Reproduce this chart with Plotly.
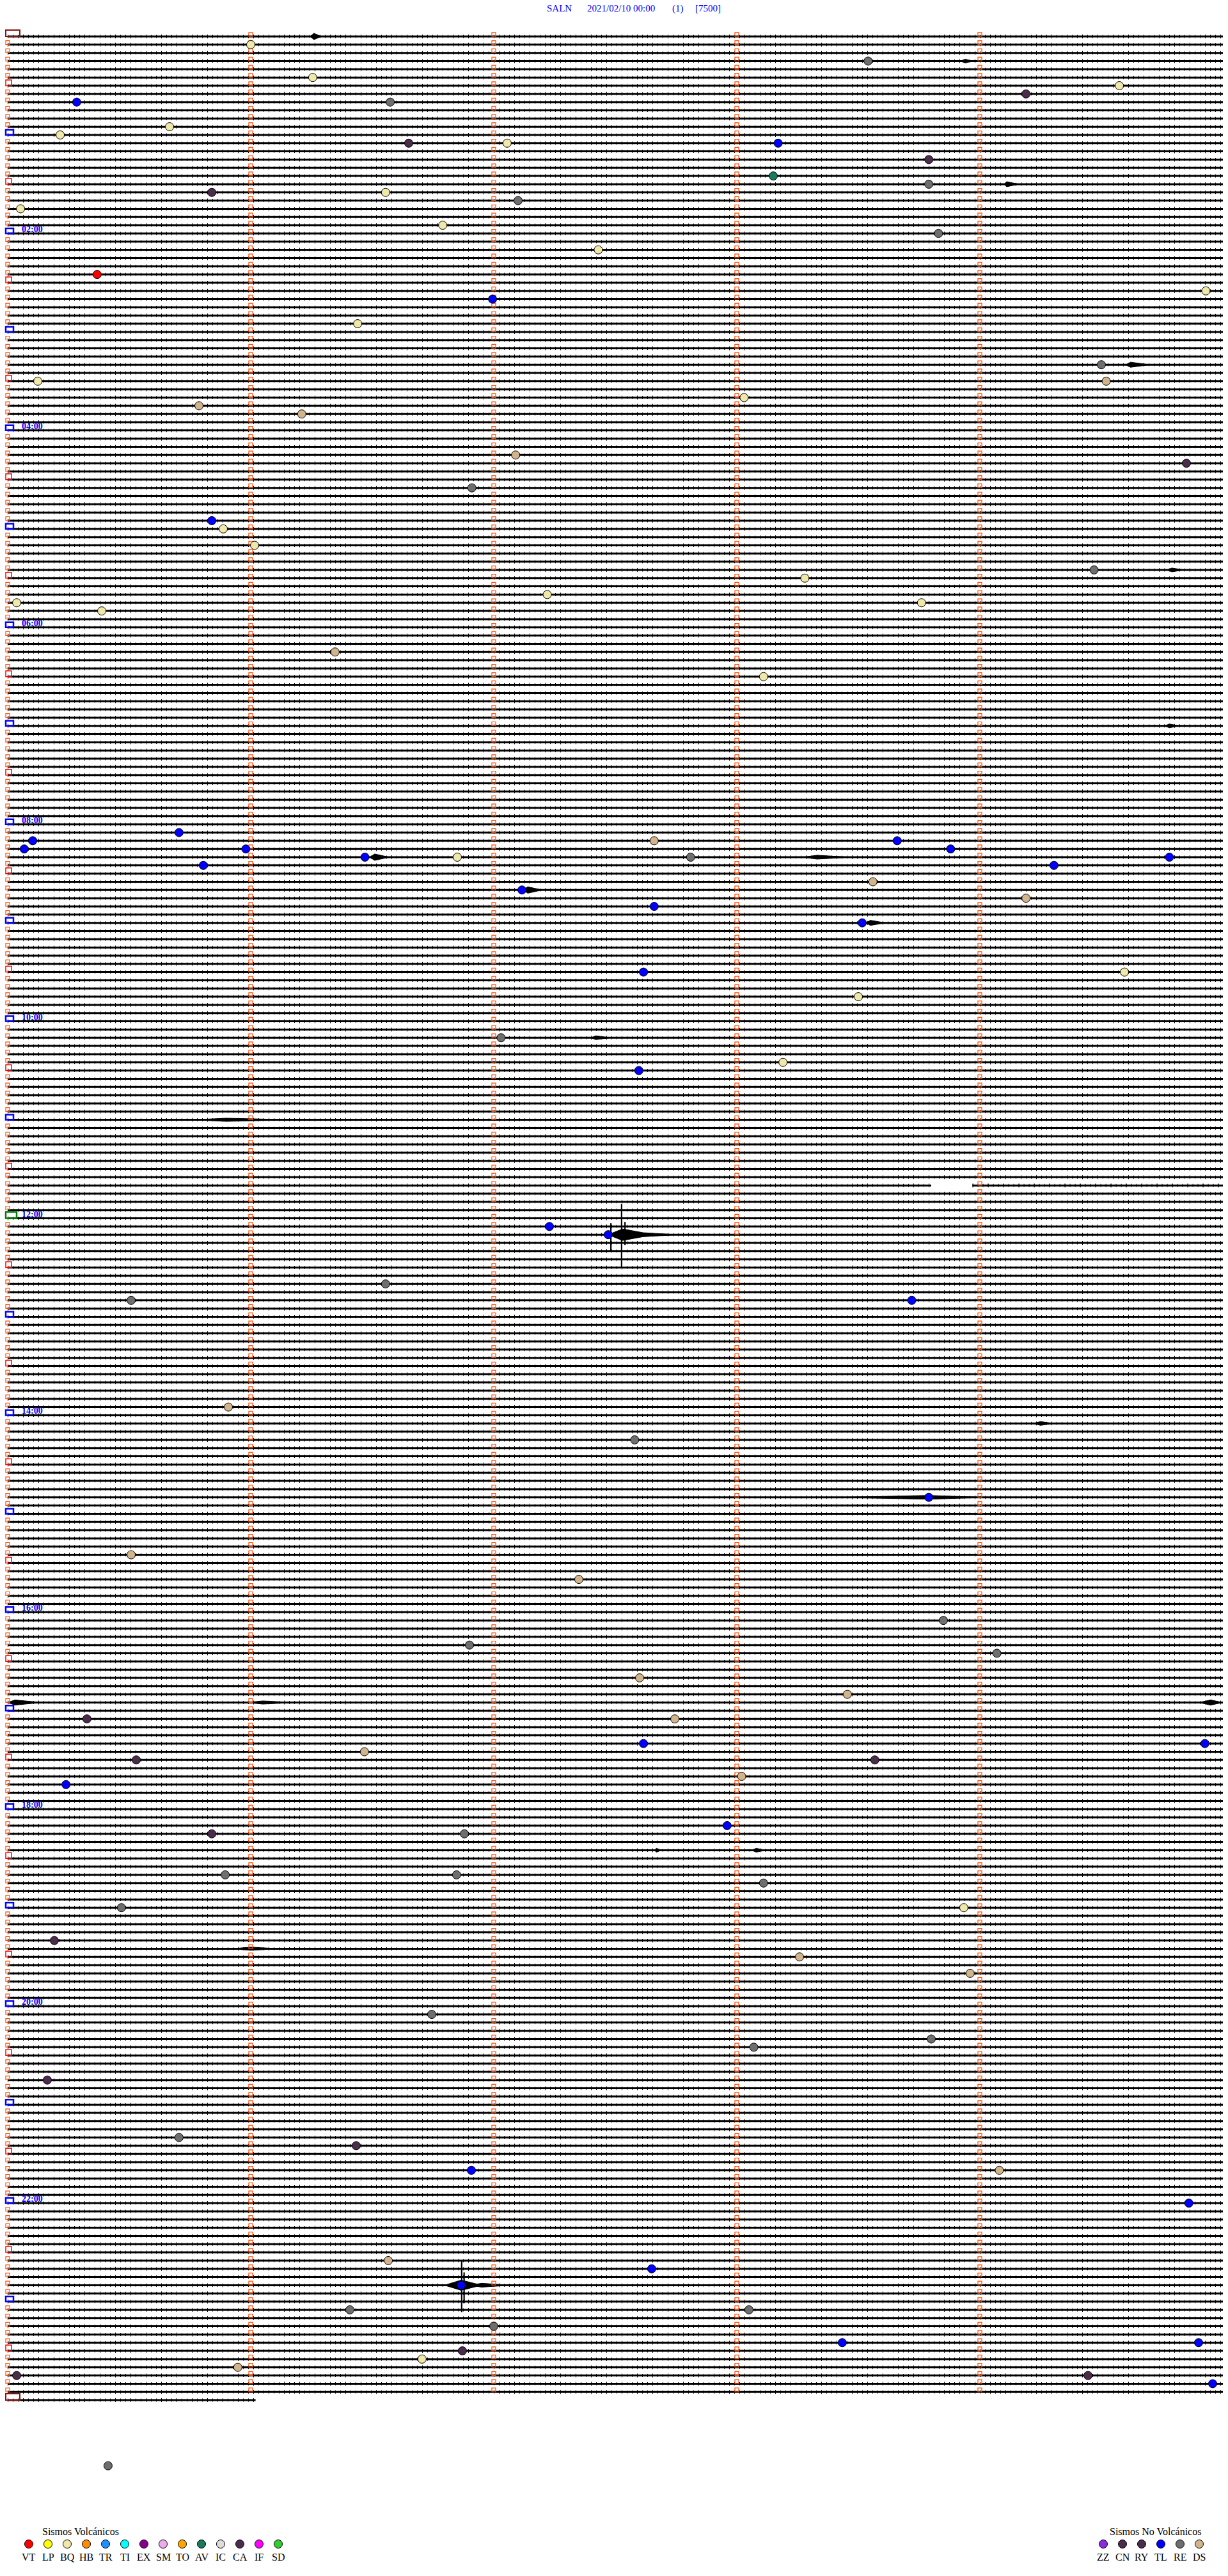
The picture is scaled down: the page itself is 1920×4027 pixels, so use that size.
import plotly.graph_objects as go

# ---------------- data ----------------
STATION = "SALN"
START_LABEL = "2021/02/10 00:00"
CHANNEL_LABEL = "(1)"
SCALE_LABEL = "[7500]"

N_ROWS = 289            # 5-minute lines, 24 h + start of next day
ROW_MINUTES = 5.0
LAST_ROW_END = 1.02     # minutes drawn on the last (partial) line
HOUR_LABELS = ["02:00", "04:00", "06:00", "08:00", "10:00", "12:00",
               "14:00", "16:00", "18:00", "20:00", "22:00"]
HOUR_LABEL_ROWS = [24, 48, 72, 96, 120, 144, 168, 192, 216, 240, 264]

# data gaps: row, start minute, end minute
GAP_ROW = [140]
GAP_START = [3.80]
GAP_END = [3.97]

# classified events: row, minute within the line, type
EV_ROW = [1, 3, 5, 6, 7, 8, 8, 11, 12, 13, 13, 13, 15, 17, 18, 19, 19, 20, 21, 23,
          24, 26, 29, 31, 32, 35, 40, 42, 42, 44, 45, 46, 51, 52, 55, 59, 60, 62, 65, 66,
          68, 69, 69, 70, 75, 78, 97, 98, 98, 98, 99, 99, 99, 100, 100, 100, 100, 101, 101, 103,
          104, 105, 106, 108, 114, 114, 117, 122, 125, 126, 145, 146, 152, 154, 154, 167, 171, 178, 185, 188,
          193, 196, 197, 200, 202, 205, 205, 208, 208, 209, 210, 210, 212, 213, 218, 219, 219, 224, 224, 225,
          228, 228, 232, 234, 236, 241, 244, 245, 249, 256, 257, 260, 260, 264, 271, 272, 274, 277, 277, 279,
          281, 281, 282, 283, 284, 285, 285, 286, 296]
EV_MIN = [1.00, 3.54, 1.255, 4.574, 4.19, 0.284, 1.574, 0.666, 0.216, 1.65, 2.055, 3.17, 3.79, 3.15, 3.79, 0.84, 1.555, 2.10, 0.053, 1.79,
          3.83, 2.43, 0.368, 4.93, 1.995, 1.44, 4.50, 0.124, 4.52, 3.03, 0.787, 1.21, 2.09, 4.85, 1.91, 0.84, 0.887, 1.016, 4.47, 3.28,
          2.22, 0.037, 3.76, 0.387, 1.347, 3.11, 0.705, 0.103, 2.66, 3.66, 0.068, 0.98, 3.88, 1.47, 1.85, 2.81, 4.78, 0.805, 4.305, 3.56,
          2.116, 4.19, 2.66, 3.516, 2.616, 4.595, 3.50, 2.03, 3.19, 2.597, 2.229, 2.471, 1.555, 0.508, 3.72, 0.908, 2.58, 3.79, 0.508, 2.35,
          3.85, 1.90, 4.07, 2.60, 3.455, 0.326, 2.745, 2.616, 4.926, 1.468, 0.529, 3.568, 3.02, 0.24, 2.96, 0.84, 1.879, 0.895, 1.847, 3.11,
          0.468, 3.934, 0.192, 3.258, 3.96, 1.745, 3.80, 3.07, 0.163, 0.705, 1.434, 1.908, 4.08, 4.86, 1.566, 2.65, 1.866, 1.408, 3.05, 2.00,
          3.434, 4.90, 1.871, 1.705, 0.947, 0.037, 4.445, 4.958, 0.413]
EV_TYPE = ["BQ", "RE", "BQ", "BQ", "CA", "TL", "RE", "BQ", "BQ", "CA", "BQ", "TL", "CA", "AV", "RE", "CA", "BQ", "RE", "BQ", "BQ",
           "RE", "BQ", "VT", "BQ", "TL", "BQ", "RE", "BQ", "DS", "BQ", "DS", "DS", "DS", "CA", "RE", "TL", "BQ", "BQ", "RE", "BQ",
           "BQ", "BQ", "BQ", "BQ", "DS", "BQ", "TL", "TL", "DS", "TL", "TL", "TL", "TL", "TL", "BQ", "RE", "TL", "TL", "TL", "DS",
           "TL", "DS", "TL", "TL", "TL", "BQ", "BQ", "RE", "BQ", "TL", "TL", "TL", "RE", "RE", "TL", "DS", "RE", "TL", "DS", "DS",
           "RE", "RE", "RE", "DS", "DS", "CA", "DS", "TL", "TL", "DS", "CA", "CA", "DS", "TL", "TL", "CA", "RE", "RE", "RE", "RE",
           "RE", "BQ", "CA", "DS", "DS", "RE", "RE", "RE", "CA", "RE", "CA", "TL", "DS", "TL", "DS", "TL", "TL", "RE", "RE", "RE",
           "TL", "TL", "CA", "BQ", "DS", "CA", "CA", "TL", "RE"]

# signal bursts: row, start, peak, end (minutes), half amplitude (px)
BURST_ROW = [0, 3, 18, 40, 65, 84, 100, 100, 104, 108, 122, 132, 146, 146, 169, 178, 203, 203, 203, 221, 221, 233, 274, 274]
BURST_START = [1.245, 3.92, 4.10, 4.60, 4.77, 4.76, 1.49, 3.27, 2.12, 3.53, 2.40, 0.76, 2.47, 2.60, 4.22, 3.42, 0.00, 0.98, 4.90, 2.66, 3.06, 0.92, 1.797, 1.90]
BURST_PEAK = [1.26, 3.94, 4.11, 4.62, 4.79, 4.78, 1.51, 3.33, 2.14, 3.55, 2.42, 0.90, 2.53, 2.62, 4.25, 3.79, 0.03, 1.05, 4.95, 2.67, 3.08, 1.00, 1.866, 1.95]
BURST_END = [1.29, 3.97, 4.16, 4.70, 4.84, 4.82, 1.57, 3.47, 2.20, 3.61, 2.48, 1.18, 2.66, 2.76, 4.30, 4.02, 0.14, 1.18, 5.00, 2.69, 3.12, 1.12, 1.95, 2.074]
BURST_AMP = [5, 3, 4, 4, 3, 3, 5, 3, 5, 4, 3, 2.5, 9, 3, 3, 3, 4, 2.5, 4, 3, 3, 2.5, 8, 3]

# single large spikes: row, minute, reach above / below the line (px)
SPIKE_ROW = [146, 146, 146, 274, 274]
SPIKE_MIN = [2.526, 2.482, 2.54, 1.868, 1.878]
SPIKE_UP = [48, 18, 20, 38, 20]
SPIKE_DOWN = [50, 25, 16, 42, 28]

VOLC_TYPES = ["VT", "LP", "BQ", "HB", "TR", "TI", "EX", "SM", "TO", "AV", "IC", "CA", "IF", "SD"]
NONVOLC_TYPES = ["ZZ", "CN", "RY", "TL", "RE", "DS"]
TYPE_COLOR = {"VT": "#ff0000", "LP": "#ffff00", "BQ": "#f0e8a8", "HB": "#ff8c00", "TR": "#1e90ff",
              "TI": "#00ffff", "EX": "#8b008b", "SM": "#eeaaee", "TO": "#ffa500", "AV": "#1a7a5e",
              "IC": "#dcdcdc", "CA": "#4b2c4b", "IF": "#ff00ff", "SD": "#32cd32",
              "ZZ": "#8a2be2", "CN": "#4b2c4b", "RY": "#4b2c4b", "TL": "#0000ff", "RE": "#6e6e6e",
              "DS": "#d2b48c"}

# ---------------- geometry (pixels) ----------------
W, H = 1920, 4027
X0, PXM = 12.0, 380.0      # x pixel of minute 0, pixels per minute
Y0, PXR = 57.0, 12.83      # y pixel of line 0, pixels per line


def px2x(px):
    return (px - X0) / PXM


def px2y(py):
    return (py - Y0) / PXR


fig = go.Figure()

# ---- trace lines ----
lx, ly = [], []
for r in range(N_ROWS):
    end = ROW_MINUTES if r < N_ROWS - 1 else LAST_ROW_END
    segs = [(0.0, end)]
    for gr, gs, ge in zip(GAP_ROW, GAP_START, GAP_END):
        if gr == r:
            new = []
            for a, b in segs:
                if gs > a:
                    new.append((a, min(gs, b)))
                if ge < b:
                    new.append((max(ge, a), b))
            segs = new
    for a, b in segs:
        lx += [a, b, None]
        ly += [r, r, None]

fig.add_trace(go.Scatter(x=lx, y=ly, mode="lines", line=dict(color="black", width=3),
                         hoverinfo="skip"))
fig.add_trace(go.Scatter(x=lx, y=ly, mode="lines",
                         line=dict(color="black", width=5, dash="1px,7px"), hoverinfo="skip"))
fig.add_trace(go.Scatter(x=lx, y=ly, mode="lines",
                         line=dict(color="black", width=6, dash="1px,23px"), hoverinfo="skip"))

# ---- bursts ----
bx, by = [], []
for r, s, p, e, a in zip(BURST_ROW, BURST_START, BURST_PEAK, BURST_END, BURST_AMP):
    d = a / PXR
    bx += [s, p, e, p, s, None]
    by += [r, r - d, r, r + d, r, None]
fig.add_trace(go.Scatter(x=bx, y=by, mode="lines", fill="toself", fillcolor="black",
                         line=dict(color="black", width=1), hoverinfo="skip"))

sx, sy = [], []
for r, m, u, dn in zip(SPIKE_ROW, SPIKE_MIN, SPIKE_UP, SPIKE_DOWN):
    sx += [m, m, None]
    sy += [r - u / PXR, r + dn / PXR, None]
fig.add_trace(go.Scatter(x=sx, y=sy, mode="lines", line=dict(color="black", width=2.2),
                         hoverinfo="skip"))

# ---- minute ticks (small open boxes) ----
special = set([0, N_ROWS - 1] + list(range(6, N_ROWS - 1, 6)))
tx, ty = [], []
for r in range(N_ROWS):
    cols = [0, 1, 2, 3, 4] if r < N_ROWS - 1 else []
    for c in cols:
        if c == 0 and r in special:
            continue
        tx.append(c)
        ty.append(r - 3.2 / PXR)
fig.add_trace(go.Scatter(x=tx, y=ty, mode="markers", hoverinfo="skip",
                         marker=dict(symbol="square-open", size=6, color="#ff4a00",
                                     line=dict(width=1.2, color="#ff4a00"))))

# ---- line-start boxes (00:00, hours, half hours) ----
shapes = []
for r in sorted(special):
    if r in (0, N_ROWS - 1):
        w, h, col, lw = 22, 10, "#8b1010", 2
    elif r == 144:
        w, h, col, lw = 17, 10, "#008000", 2.5
    elif r % 12 == 0:
        w, h, col, lw = 12, 8, "#0000ff", 2.5
    else:
        w, h, col, lw = 9, 9, "#ff0000", 1.5
    shapes.append(dict(type="rect", xref="x", yref="y",
                       x0=px2x(9), x1=px2x(9 + w), y0=r - h / PXR, y1=r,
                       line=dict(color=col, width=lw), fillcolor="rgba(0,0,0,0)"))

# ---- event circles ----
fig.add_trace(go.Scatter(x=EV_MIN, y=EV_ROW, mode="markers", hoverinfo="skip",
                         marker=dict(size=13, color=[TYPE_COLOR[t] for t in EV_TYPE],
                                     line=dict(color="black", width=1))))

# ---- legend ----
SERIF = "Liberation Serif, Times New Roman, serif"
lgx = [45 + 30 * i for i in range(len(VOLC_TYPES))] + [1725 + 30 * i for i in range(len(NONVOLC_TYPES))]
lgt = VOLC_TYPES + NONVOLC_TYPES
fig.add_trace(go.Scatter(x=[px2x(v) for v in lgx], y=[px2y(3977)] * len(lgx), mode="markers",
                         hoverinfo="skip",
                         marker=dict(size=13, color=[TYPE_COLOR[t] for t in lgt],
                                     line=dict(color="black", width=1))))

ann = []
for xv, t in zip(lgx, lgt):
    ann.append(dict(x=xv / W, y=1 - 3997 / H, xref="paper", yref="paper", text=t, showarrow=False,
                    xanchor="center", yanchor="middle", font=dict(family=SERIF, size=16, color="black")))
ann.append(dict(x=64 / W, y=1 - 3957 / H, xref="paper", yref="paper", text="Sismos Volcánicos",
                showarrow=False, xanchor="left", yanchor="middle",
                font=dict(family=SERIF, size=16, color="black")))
ann.append(dict(x=1806 / W, y=1 - 3957 / H, xref="paper", yref="paper", text="Sismos No Volcánicos",
                showarrow=False, xanchor="center", yanchor="middle",
                font=dict(family=SERIF, size=16, color="black")))

# ---- title ----
for txt, xc in zip([STATION, START_LABEL, CHANNEL_LABEL, SCALE_LABEL], [874, 971, 1060, 1107]):
    ann.append(dict(x=xc / W, y=1 - 13 / H, xref="paper", yref="paper", text=txt, showarrow=False,
                    xanchor="center", yanchor="middle", font=dict(family=SERIF, size=15, color="#0000ff")))

# ---- hour labels ----
for lab, r in zip(HOUR_LABELS, HOUR_LABEL_ROWS):
    ann.append(dict(x=px2x(32), y=r + 3 / PXR, xref="x", yref="y", text="<b>" + lab + "</b>",
                    showarrow=False, xanchor="left", yanchor="bottom",
                    font=dict(family=SERIF, size=14, color="#0000ff")))

fig.update_layout(
    width=W, height=H, autosize=False,
    margin=dict(l=0, r=0, t=0, b=0, pad=0),
    paper_bgcolor="white", plot_bgcolor="white", showlegend=False,
    xaxis=dict(range=[px2x(0), px2x(W)], visible=False, fixedrange=True),
    yaxis=dict(range=[px2y(H), px2y(0)], visible=False, fixedrange=True),
    shapes=shapes, annotations=ann,
)

fig.write_html("out.html", config={"displayModeBar": False},
               post_script="document.body.style.margin='0px';")
